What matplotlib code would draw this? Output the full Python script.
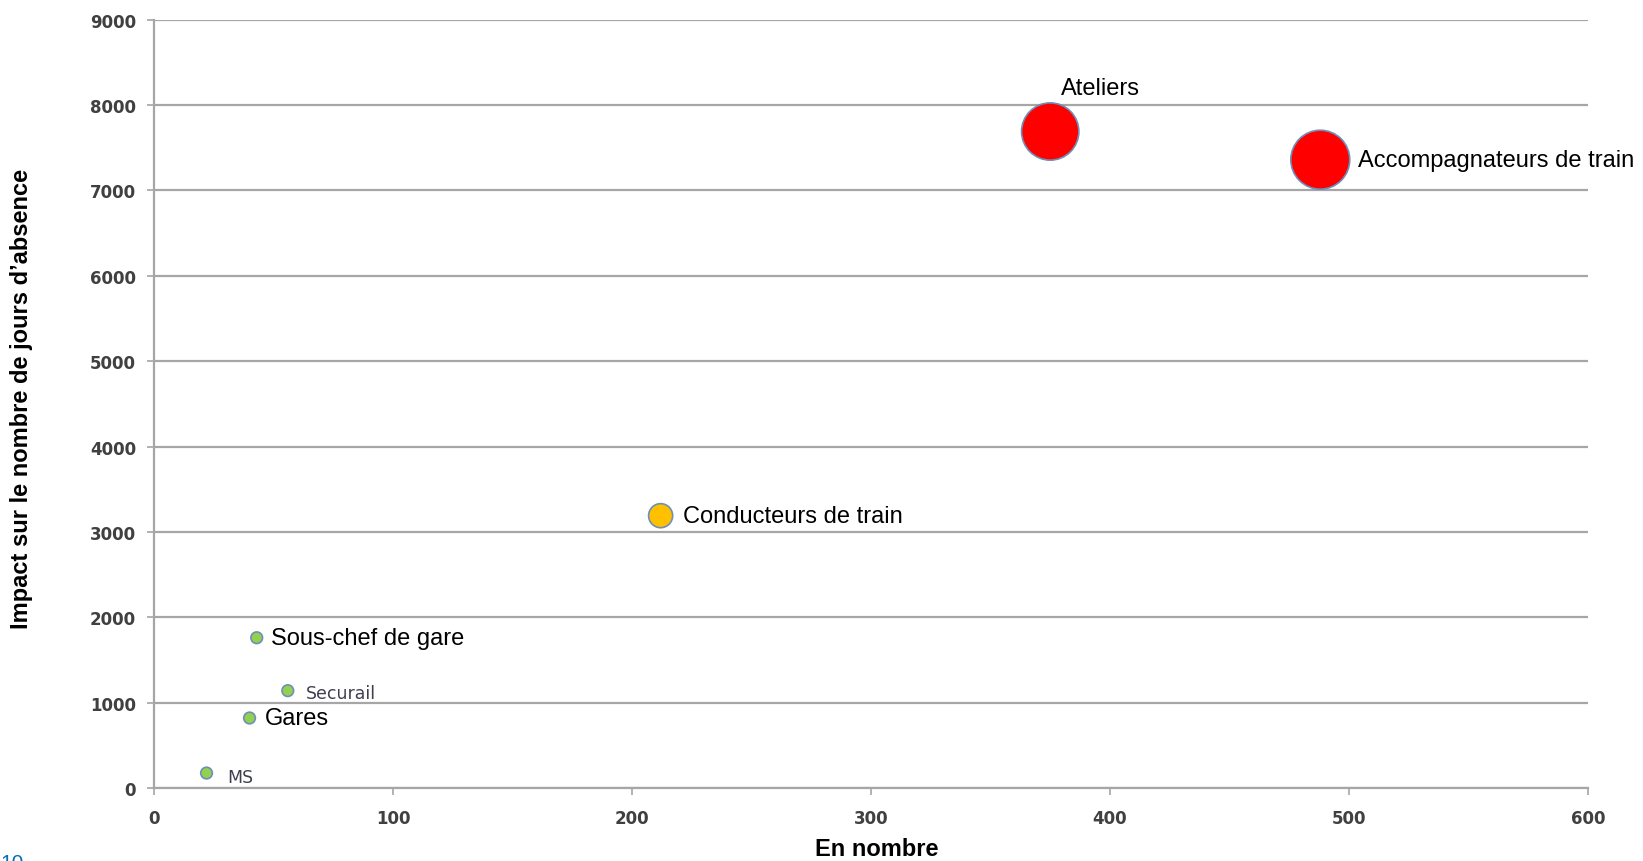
import matplotlib.pyplot as plt

# data
names = ["MS", "Gares", "Securail", "Sous-chef de gare", "Conducteurs de train",
         "Ateliers", "Accompagnateurs de train"]
en_nombre = [22, 40, 56, 43, 212, 375, 488]
impact_jours = [175, 820, 1140, 1760, 3190, 7690, 7360]
bubble_size = [70, 70, 70, 70, 300, 1700, 1800]
bubble_color = ["#92D050", "#92D050", "#92D050", "#92D050", "#FFC000", "#FF0000", "#FF0000"]

x_ticks = [0, 100, 200, 300, 400, 500, 600]
y_ticks = [0, 1000, 2000, 3000, 4000, 5000, 6000, 7000, 8000, 9000]

# label placement (offset in points, font size, font, colour)
label_style = {
    "MS": ((15, -3), 12.5, "DejaVu Sans", "#3F3F50"),
    "Gares": ((11, 0), 17, "Liberation Sans", "black"),
    "Securail": ((13, -2), 12.5, "DejaVu Sans", "#3F3F50"),
    "Sous-chef de gare": ((10, 0), 17, "Liberation Sans", "black"),
    "Conducteurs de train": ((16, 0), 17, "Liberation Sans", "black"),
    "Ateliers": ((8, 31), 17, "Liberation Sans", "black"),
    "Accompagnateurs de train": ((27, 0), 17, "Liberation Sans", "black"),
}

fig = plt.figure(figsize=(16.43, 8.62), dpi=100)
ax = fig.add_axes([0.0937, 0.0847, 0.8728, 0.8913])

grid_col = "#A6A6A6"
ax.set_xlim(0, 600)
ax.set_ylim(0, 9000)
ax.set_xticks(x_ticks)
ax.set_yticks(y_ticks)
ax.yaxis.grid(True, color=grid_col, linewidth=1.6)
ax.set_axisbelow(True)

for side in ["top", "right"]:
    ax.spines[side].set_visible(False)
for side in ["left", "bottom"]:
    ax.spines[side].set_color(grid_col)
    ax.spines[side].set_linewidth(1.6)

ax.tick_params(axis="both", colors=grid_col, length=5, width=1.2)
ax.tick_params(axis="y", pad=8)
ax.tick_params(axis="x", pad=10)
for lab in ax.get_xticklabels() + ax.get_yticklabels():
    lab.set_color("#404040")
    lab.set_fontweight("bold")
    lab.set_fontsize(12)
    lab.set_family("DejaVu Sans")

ax.scatter(en_nombre, impact_jours, s=bubble_size, c=bubble_color,
           edgecolors="#6F8FB8", linewidths=1.2, zorder=3)

for name, xv, yv in zip(names, en_nombre, impact_jours):
    off, fs, fam, col = label_style[name]
    ax.annotate(name, (xv, yv), xytext=off, textcoords="offset points",
                ha="left", va="center", fontsize=fs, family=fam, color=col)

ax.set_xlabel("En nombre", fontsize=17, fontweight="bold", family="Liberation Sans")
ax.set_ylabel("Impact sur le nombre de jours d\u2019absence", fontsize=17,
              fontweight="bold", family="Liberation Sans")
ax.xaxis.set_label_coords(0.504, -0.064)
ax.yaxis.set_label_coords(-0.084, 0.508)

# page number, mostly cut off at the bottom edge
fig.text(0.0, 0.009, "10", color="#0070C0", fontsize=15, va="top", ha="left",
         family="Liberation Sans")

fig.savefig("out.png", dpi=100)
